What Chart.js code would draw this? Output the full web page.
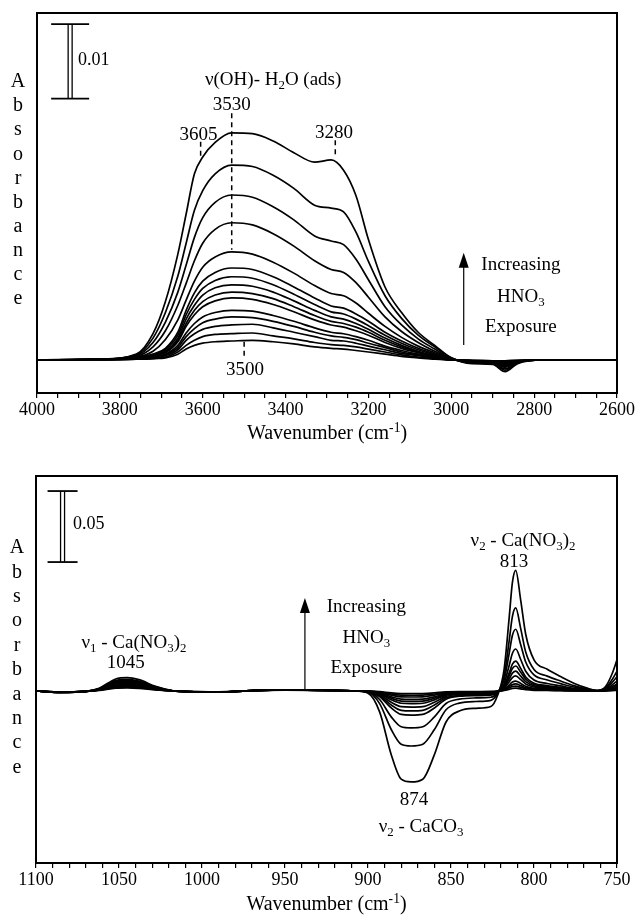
<!DOCTYPE html>
<html>
<head>
<meta charset="utf-8">
<script src="https://cdn.jsdelivr.net/npm/chart.js@4.4.1/dist/chart.umd.min.js"></script>
<style>
  html, body { margin: 0; padding: 0; background: #fff; }
  #wrap { position: relative; width: 639px; height: 918px; }
  #top, #bottom { position: absolute; left: 0; }
  #top { top: 0; }
  #bottom { top: 450px; }
</style>
</head>
<body>
<div id="wrap">
  <canvas id="top" width="639" height="450"></canvas>
  <canvas id="bottom" width="639" height="468"></canvas>
</div>
<script>
// ── Data (absorbance in units of 0.001) ─────────────────────────────────────

// upper panel: O-H stretch region, one row per HNO3 exposure (largest first)
const WN_OH = [4000, 3850, 3760, 3720, 3690, 3660, 3640, 3620, 3600, 3570, 3530,
               3480, 3430, 3380, 3330, 3290, 3260, 3230, 3200, 3160, 3120, 3080,
               3040, 3000, 2950, 2900, 2870, 2840, 2780, 2600];

const OH_SPECTRA = [
  [0, 0.1, 0.8, 3.6, 8.0, 14.5, 20.0, 25.5, 27.8, 29.8, 31.1, 31.0, 30.0, 28.4, 27.1, 27.4, 26.0, 22.5, 16.5, 10.0, 6.5, 3.8, 2.0, 0.3, -0.5, -0.6, -1.6, -0.5, 0, 0],
  [0, 0.1, 0.7, 3.0, 6.5, 11.5, 16.0, 20.5, 23.2, 25.5, 26.7, 26.5, 25.3, 23.5, 21.2, 20.8, 20.3, 17.5, 13.5, 8.8, 5.7, 3.4, 1.8, 0.3, -0.4, -0.5, -1.4, -0.4, 0, 0],
  [0, 0.1, 0.6, 2.4, 5.2, 9.3, 13.0, 16.8, 19.5, 21.6, 22.6, 22.3, 21.0, 19.2, 17.0, 16.3, 15.8, 13.8, 11.0, 7.3, 4.8, 2.9, 1.5, 0.2, -0.4, -0.5, -1.2, -0.4, 0, 0],
  [0, 0.1, 0.5, 1.8, 4.0, 7.5, 10.5, 13.6, 16.0, 17.9, 18.8, 18.5, 17.3, 15.6, 13.6, 12.4, 12.0, 10.6, 8.6, 5.9, 3.9, 2.4, 1.2, 0.2, -0.3, -0.4, -1.0, -0.3, 0, 0],
  [0, 0.1, 0.4, 1.2, 2.8, 5.5, 8.2, 10.8, 12.7, 14.1, 14.8, 14.5, 13.4, 11.9, 10.2, 9.1, 8.8, 7.8, 6.4, 4.6, 3.1, 1.9, 1.0, 0.1, -0.3, -0.4, -0.9, -0.3, 0, 0],
  [0, 0.1, 0.3, 0.8, 1.6, 3.8, 6.8, 9.2, 10.8, 12.0, 12.6, 12.4, 11.4, 10.0, 8.5, 7.4, 7.1, 6.3, 5.3, 3.8, 2.6, 1.6, 0.8, 0.1, -0.2, -0.3, -0.8, -0.2, 0, 0],
  [0, 0.1, 0.3, 0.7, 1.4, 3.4, 6.2, 8.3, 9.8, 10.9, 11.4, 11.2, 10.3, 9.0, 7.6, 6.6, 6.3, 5.6, 4.7, 3.4, 2.3, 1.4, 0.7, 0.1, -0.2, -0.3, -0.7, -0.2, 0, 0],
  [0, 0.1, 0.2, 0.6, 1.2, 3.0, 5.6, 7.5, 8.9, 9.9, 10.3, 10.1, 9.3, 8.1, 6.8, 5.9, 5.6, 5.0, 4.2, 3.0, 2.0, 1.2, 0.6, 0.1, -0.2, -0.3, -0.6, -0.2, 0, 0],
  [0, 0.1, 0.2, 0.5, 1.1, 2.7, 5.0, 6.8, 8.0, 8.9, 9.3, 9.1, 8.4, 7.3, 6.1, 5.3, 5.0, 4.5, 3.8, 2.7, 1.8, 1.1, 0.5, 0.1, -0.1, -0.2, -0.5, -0.1, 0, 0],
  [0, 0.1, 0.2, 0.5, 1.0, 2.5, 4.6, 6.2, 7.3, 8.1, 8.5, 8.3, 7.6, 6.6, 5.5, 4.8, 4.5, 4.0, 3.4, 2.4, 1.6, 1.0, 0.5, 0.1, -0.1, -0.2, -0.4, -0.1, 0, 0],
  [0, 0.1, 0.2, 0.4, 0.8, 2.0, 3.7, 5.0, 5.9, 6.5, 6.8, 6.7, 6.1, 5.3, 4.4, 3.8, 3.6, 3.2, 2.7, 1.9, 1.3, 0.8, 0.4, 0.1, -0.1, -0.2, -0.3, -0.1, 0, 0],
  [0, 0.1, 0.1, 0.3, 0.7, 1.7, 3.2, 4.3, 5.1, 5.6, 5.9, 5.8, 5.3, 4.6, 3.8, 3.3, 3.1, 2.8, 2.3, 1.7, 1.1, 0.7, 0.3, 0.0, -0.1, -0.1, -0.3, -0.1, 0, 0],
  [0, 0, 0.1, 0.3, 0.6, 1.4, 2.7, 3.6, 4.2, 4.6, 4.8, 4.9, 4.4, 3.8, 3.2, 2.7, 2.6, 2.3, 1.9, 1.4, 0.9, 0.6, 0.3, 0, -0.1, -0.1, -0.2, -0.1, 0, 0],
  [0, 0, 0.1, 0.2, 0.4, 1.1, 2.0, 2.7, 3.2, 3.5, 3.6, 3.7, 3.3, 2.9, 2.4, 2.1, 2.0, 1.8, 1.5, 1.1, 0.7, 0.4, 0.2, 0, -0.1, -0.1, -0.2, -0.1, 0, 0],
  [0, 0, 0.1, 0.2, 0.3, 0.8, 1.5, 2.0, 2.3, 2.5, 2.6, 2.7, 2.5, 2.2, 1.8, 1.6, 1.5, 1.3, 1.1, 0.8, 0.5, 0.3, 0.1, 0, 0, -0.1, -0.1, 0, 0, 0],
];

const OH_TICK_LABELS = [4000, 3800, 3600, 3400, 3200, 3000, 2800, 2600];

// lower panel: nitrate / carbonate region
const WN_NO3 = [1100, 1085, 1070, 1062, 1052, 1045, 1038, 1028, 1018, 1005, 990, 970, 950, 930, 910,
                900, 893, 886, 880, 874, 867, 860, 853, 845, 835, 826, 822,
                818, 815, 813, 811, 808, 805, 800, 792, 784, 776, 768, 762, 757, 753, 750];

const NO3_SPECTRA = [
  [0, -1.0, -0.3, 1.9, 8.5, 9.4, 8.0, 3.3, 0.3, -0.6, -0.8, 0.3, 0.9, 0.6, 0.2,
   -1.5, -14.7, -44.8, -62.1, -64, -62.1, -44.8, -21.8, -14.1, -12.2, -10.9, -3.2,
   15.3, 51, 76.5, 85, 63.8, 40, 22, 15.3, 10.2, 5.5, 2, 0.4, 3, 12, 22],
  [0, -1.0, -0.3, 1.6, 7.4, 8.2, 7.0, 2.9, 0.2, -0.6, -0.8, 0.3, 0.9, 0.6, 0.2,
   -0.9, -8.9, -27.1, -37.5, -38.7, -37.5, -27.1, -13.2, -8.5, -7.4, -6.6, -1.9,
   10.5, 35, 52.6, 58.5, 43.9, 27.5, 15.2, 10.5, 7, 3.8, 1.4, 0.3, 2, 8, 14],
  [0, -1.0, -0.3, 1.5, 6.8, 7.5, 6.4, 2.6, 0.2, -0.6, -0.8, 0.3, 0.9, 0.6, 0.2,
   -0.6, -6, -18.2, -25.2, -26, -25.2, -18.2, -8.8, -5.7, -4.9, -4.4, -1.3,
   7.8, 26.1, 39.2, 43.5, 32.6, 20.4, 11.3, 7.8, 5.2, 2.8, 1, 0.2, 1.5, 6, 10],
  [0, -0.9, -0.3, 1.4, 6.1, 6.8, 5.8, 2.4, 0.2, -0.6, -0.8, 0.3, 0.9, 0.6, 0.2,
   -0.4, -3.9, -11.9, -16.5, -17, -16.5, -11.9, -5.8, -3.7, -3.2, -2.9, -0.9,
   5.3, 17.8, 26.6, 29.6, 22.2, 13.9, 7.7, 5.3, 3.6, 1.9, 0.7, 0.1, 1.1, 4.2, 7],
  [0, -0.9, -0.3, 1.3, 5.7, 6.3, 5.4, 2.2, 0.2, -0.6, -0.8, 0.3, 0.9, 0.6, 0.2,
   -0.3, -3.2, -9.8, -13.6, -14, -13.6, -9.8, -4.8, -3.1, -2.7, -2.4, -0.7,
   3.8, 12.6, 18.9, 21, 15.8, 9.9, 5.5, 3.8, 2.5, 1.4, 0.5, 0.1, 0.8, 3, 5],
  [0, -0.9, -0.3, 1.1, 5.0, 5.5, 4.7, 1.9, 0.2, -0.6, -0.8, 0.3, 0.9, 0.6, 0.2,
   -0.3, -2.6, -7.9, -11, -11.3, -11, -7.9, -3.8, -2.5, -2.1, -1.9, -0.6,
   3.2, 10.6, 15.8, 17.6, 13.2, 8.3, 4.6, 3.2, 2.1, 1.1, 0.4, 0.1, 0.6, 2.4, 4],
  [0, -0.8, -0.3, 0.9, 4.2, 4.7, 4.0, 1.6, 0.1, -0.5, -0.7, 0.3, 0.8, 0.5, 0.2,
   -0.2, -2, -6.2, -8.6, -8.9, -8.6, -6.2, -3, -2, -1.7, -1.5, -0.4,
   2.5, 8.4, 12.6, 14, 10.5, 6.6, 3.6, 2.5, 1.7, 0.9, 0.3, 0.1, 0.5, 1.8, 3],
  [0, -0.8, -0.3, 0.8, 3.8, 4.2, 3.6, 1.5, 0.1, -0.5, -0.7, 0.3, 0.8, 0.5, 0.2,
   -0.2, -1.7, -5.1, -7.1, -7.3, -7.1, -5.1, -2.5, -1.6, -1.4, -1.2, -0.4,
   1.9, 6.4, 9.5, 10.6, 8, 5, 2.8, 1.9, 1.3, 0.7, 0.3, 0.1, 0.4, 1.5, 2.5],
  [0, -0.8, -0.3, 0.8, 3.4, 3.8, 3.2, 1.3, 0.1, -0.5, -0.7, 0.3, 0.8, 0.5, 0.2,
   -0.1, -1.4, -4.1, -5.7, -5.9, -5.7, -4.1, -2, -1.3, -1.1, -1, -0.3,
   1.3, 4.2, 6.3, 7, 5.3, 3.3, 1.8, 1.3, 0.8, 0.5, 0.2, 0, 0.3, 1.2, 2],
  [0, -0.7, -0.2, 0.7, 3.0, 3.3, 2.8, 1.2, 0.1, -0.5, -0.6, 0.2, 0.7, 0.5, 0.1,
   -0.1, -1, -2.9, -4.1, -4.2, -4.1, -2.9, -1.4, -0.9, -0.8, -0.7, -0.2,
   0.9, 3, 4.5, 5, 3.8, 2.4, 1.3, 0.9, 0.6, 0.3, 0.1, 0, 0.2, 0.9, 1.5],
  [0, -0.7, -0.2, 0.6, 2.5, 2.8, 2.4, 1.0, 0.1, -0.4, -0.6, 0.2, 0.7, 0.4, 0.1,
   -0.1, -0.7, -2.1, -2.9, -3, -2.9, -2.1, -1, -0.7, -0.6, -0.5, -0.2,
   0.6, 2.1, 3.2, 3.5, 2.6, 1.6, 0.9, 0.6, 0.4, 0.2, 0.1, 0, 0.2, 0.6, 1],
  [0, -0.6, -0.2, 0.4, 2.0, 2.2, 1.9, 0.8, 0.1, -0.4, -0.5, 0.2, 0.6, 0.4, 0.1,
   0, -0.4, -1.3, -1.8, -1.9, -1.8, -1.3, -0.6, -0.4, -0.4, -0.3, -0.1,
   0.4, 1.2, 1.8, 2, 1.5, 0.9, 0.5, 0.4, 0.2, 0.1, 0, 0, 0.1, 0.3, 0.5],
];

const NO3_TICK_LABELS = [1100, 1050, 1000, 950, 900, 850, 800, 750];

// ── Styling helpers ─────────────────────────────────────────────────────────

const SERIF = '"Liberation Serif", "DejaVu Serif", serif';
Chart.defaults.font.family = SERIF;
Chart.defaults.color = '#000';

function richWidth(ctx, parts, size) {
  let w = 0;
  parts.forEach(([t, k]) => {
    ctx.font = (k ? size * 0.68 : size) + 'px ' + SERIF;
    w += ctx.measureText(t).width;
  });
  return w;
}

// parts: [text, ''|'sub'|'sup']
function drawRich(ctx, x, y, parts, size, align) {
  const w = richWidth(ctx, parts, size);
  let cx = align === 'left' ? x : x - w / 2;
  ctx.textAlign = 'left';
  ctx.textBaseline = 'middle';
  parts.forEach(([t, k]) => {
    const s = k ? size * 0.68 : size;
    ctx.font = s + 'px ' + SERIF;
    const dy = k === 'sub' ? size * 0.3 : k === 'sup' ? -size * 0.3 : 0;
    ctx.fillText(t, cx, y + dy);
    cx += ctx.measureText(t).width;
  });
}

function line(ctx, x0, y0, x1, y1) {
  ctx.beginPath(); ctx.moveTo(x0, y0); ctx.lineTo(x1, y1); ctx.stroke();
}

// annotations, placed in data units (wavenumber, absorbance)
const NOTES = {
  top: {
    yTitle: { x: 18, y0: 82, step: 24.1 },
    xTitle: { y: 434 },
    items: [
      { kind: 'bar', at: 3920, from: 35.8, to: 46.0, half: 19 },
      { kind: 'text', at: [3901, 41.1], parts: [['0.01', '']], size: 18, align: 'left' },
      { kind: 'text', at: [3430, 38.4], parts: [['ν(OH)- H', ''], ['2', 'sub'], ['O (ads)', '']], size: 19 },
      { kind: 'text', at: [3530, 34.9], parts: [['3530', '']], size: 19 },
      { kind: 'dash', at: 3530, from: 33.8, to: 15.1 },
      { kind: 'text', at: [3610, 30.8], parts: [['3605', '']], size: 19 },
      { kind: 'dash', at: 3605, from: 29.9, to: 27.7 },
      { kind: 'text', at: [3283, 31.1], parts: [['3280', '']], size: 19 },
      { kind: 'dash', at: 3280, from: 30.1, to: 27.8 },
      { kind: 'text', at: [3498, -1.4], parts: [['3500', '']], size: 19 },
      { kind: 'dash', at: 3500, from: 2.5, to: 0.3 },
      { kind: 'arrow', at: 2970, from: 2.05, to: 14.7 },
      { kind: 'text', at: [2832, 13.0], parts: [['Increasing', '']], size: 19 },
      { kind: 'text', at: [2832, 8.6], parts: [['HNO', ''], ['3', 'sub']], size: 19 },
      { kind: 'text', at: [2832, 4.5], parts: [['Exposure', '']], size: 19 },
    ],
  },
  bottom: {
    yTitle: { x: 17, y0: 98, step: 24.4 },
    xTitle: { y: 455 },
    items: [
      { kind: 'bar', at: 1084, from: 90.8, to: 140.8, half: 15 },
      { kind: 'text', at: [1077.7, 117.6], parts: [['0.05', '']], size: 18, align: 'left' },
      { kind: 'text', at: [1041, 33.8], parts: [['ν', ''], ['1', 'sub'], [' - Ca(NO', ''], ['3', 'sub'], [')', ''], ['2', 'sub']], size: 19 },
      { kind: 'text', at: [1046, 19.7], parts: [['1045', '']], size: 19 },
      { kind: 'arrow', at: 938, from: 1.4, to: 65.5 },
      { kind: 'text', at: [901, 59.2], parts: [['Increasing', '']], size: 19 },
      { kind: 'text', at: [901, 37.3], parts: [['HNO', ''], ['3', 'sub']], size: 19 },
      { kind: 'text', at: [901, 16.2], parts: [['Exposure', '']], size: 19 },
      { kind: 'text', at: [806.6, 105.6], parts: [['ν', ''], ['2', 'sub'], [' - Ca(NO', ''], ['3', 'sub'], [')', ''], ['2', 'sub']], size: 19 },
      { kind: 'text', at: [812, 90.8], parts: [['813', '']], size: 19 },
      { kind: 'text', at: [872.3, -76.8], parts: [['874', '']], size: 19 },
      { kind: 'text', at: [868, -95.8], parts: [['ν', ''], ['2', 'sub'], [' - CaCO', ''], ['3', 'sub']], size: 19 },
    ],
  },
};

const notesPlugin = {
  id: 'notes',
  afterDraw(chart) {
    const cfg = NOTES[chart.canvas.id];
    const { ctx, chartArea: a } = chart;
    const sx = chart.scales.x, sy = chart.scales.y;
    ctx.save();
    ctx.strokeStyle = '#000';
    ctx.fillStyle = '#000';

    // frame
    ctx.lineWidth = 2;
    ctx.strokeRect(a.left, a.top, a.right - a.left, a.bottom - a.top);

    // stacked "Absorbance"
    ctx.font = '20px ' + SERIF;
    ctx.textAlign = 'center';
    ctx.textBaseline = 'middle';
    'Absorbance'.split('').forEach((ch, i) => {
      ctx.fillText(ch, cfg.yTitle.x, cfg.yTitle.y0 + i * cfg.yTitle.step);
    });

    // x title
    drawRich(ctx, (a.left + a.right) / 2, cfg.xTitle.y,
      [['Wavenumber (cm', ''], ['-1', 'sup'], [')', '']], 20);

    cfg.items.forEach(it => {
      if (it.kind === 'text') {
        drawRich(ctx, sx.getPixelForValue(it.at[0]), sy.getPixelForValue(it.at[1]), it.parts, it.size, it.align);
      } else if (it.kind === 'dash') {
        const px = sx.getPixelForValue(it.at);
        ctx.lineWidth = 1.5;
        ctx.setLineDash([5, 4]);
        line(ctx, px, sy.getPixelForValue(it.from), px, sy.getPixelForValue(it.to));
        ctx.setLineDash([]);
      } else if (it.kind === 'arrow') {
        const px = sx.getPixelForValue(it.at);
        const p0 = sy.getPixelForValue(it.from), p1 = sy.getPixelForValue(it.to);
        ctx.lineWidth = 1.2;
        line(ctx, px, p0, px, p1 + 10);
        ctx.beginPath();
        ctx.moveTo(px, p1);
        ctx.lineTo(px - 5, p1 + 15);
        ctx.lineTo(px + 5, p1 + 15);
        ctx.closePath();
        ctx.fill();
      } else if (it.kind === 'bar') {
        const px = sx.getPixelForValue(it.at);
        const pt = sy.getPixelForValue(it.to), pb = sy.getPixelForValue(it.from);
        ctx.lineWidth = 1.3;
        line(ctx, px - 2, pt, px - 2, pb);
        line(ctx, px + 2, pt, px + 2, pb);
        ctx.lineWidth = 1.8;
        line(ctx, px - it.half, pt, px + it.half, pt);
        line(ctx, px - it.half, pb, px + it.half, pb);
      }
    });
    ctx.restore();
  },
};

function spectra(wn, curves) {
  return curves.map(c => ({
    data: wn.map((w, i) => ({ x: w, y: c[i] })),
    borderColor: '#000',
    borderWidth: 1.7,
    pointRadius: 0,
    cubicInterpolationMode: 'monotone',
    fill: false,
  }));
}

function makePanel(id, wn, curves, xRange, yRange, step, labels, axisHeight, padding) {
  return new Chart(document.getElementById(id), {
    type: 'line',
    data: { datasets: spectra(wn, curves) },
    options: {
      responsive: false,
      animation: false,
      layout: { padding },
      plugins: { legend: { display: false }, tooltip: { enabled: false } },
      scales: {
        x: {
          type: 'linear',
          reverse: true,
          min: xRange[0],
          max: xRange[1],
          afterFit: s => { s.height = axisHeight; },
          ticks: {
            stepSize: step,
            autoSkip: false,
            maxRotation: 0,
            padding: 1,
            color: '#000',
            font: { family: SERIF, size: 18 },
            callback: v => labels.includes(v) ? String(v) : '',
          },
          grid: { drawOnChartArea: false, drawTicks: true, tickLength: 5, color: '#000', lineWidth: 1.2 },
          border: { display: true, color: '#000', width: 2 },
        },
        y: { display: false, min: yRange[0], max: yRange[1] },
      },
    },
    plugins: [notesPlugin],
  });
}

makePanel('top', WN_OH, OH_SPECTRA, [2600, 4000], [-4.52, 47.53], 50, OH_TICK_LABELS, 57,
  { left: 37, right: 22, top: 13, bottom: 0 });
makePanel('bottom', WN_NO3, NO3_SPECTRA, [750, 1100], [-121.1, 151.4], 10, NO3_TICK_LABELS, 55,
  { left: 36, right: 22, top: 26, bottom: 0 });
</script>
</body>
</html>
